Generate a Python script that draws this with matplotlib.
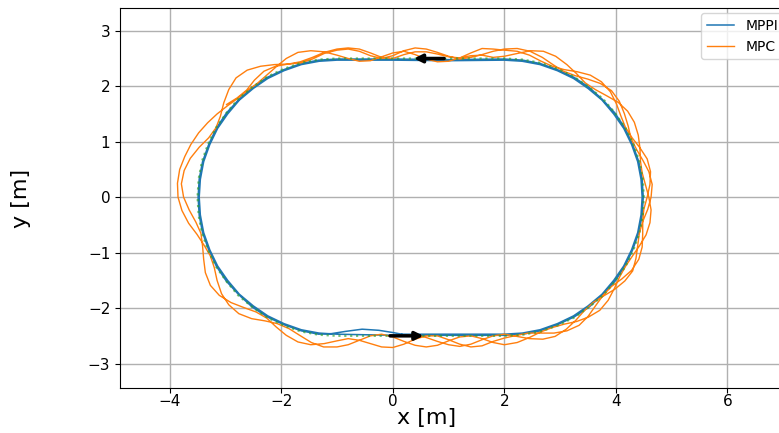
import matplotlib
matplotlib.use("Agg")
import matplotlib.pyplot as plt

# ---------------- data ----------------
# reference track (green dotted)
ref_x = [0.00, 1.00,
         2.00, 2.33, 2.65, 2.96, 3.25, 3.52, 3.77, 3.98, 4.17, 4.31, 4.42, 4.48, 4.50,
         4.48, 4.42, 4.31, 4.17, 3.98, 3.77, 3.52, 3.25, 2.96, 2.65, 2.33, 2.00,
         1.00, 0.00,
         -1.00, -1.33, -1.65, -1.96, -2.25, -2.52, -2.77, -2.98, -3.17, -3.31, -3.42, -3.48, -3.50,
         -3.48, -3.42, -3.31, -3.17, -2.98, -2.77, -2.52, -2.25, -1.96, -1.65, -1.33, -1.00,
         0.00]
ref_y = [-2.50, -2.50,
         -2.50, -2.48, -2.42, -2.31, -2.17, -1.98, -1.77, -1.52, -1.25, -0.96, -0.65, -0.33, 0.00,
         0.33, 0.65, 0.96, 1.25, 1.52, 1.77, 1.98, 2.17, 2.31, 2.42, 2.48, 2.50,
         2.50, 2.50,
         2.50, 2.48, 2.42, 2.31, 2.17, 1.98, 1.77, 1.52, 1.25, 0.96, 0.65, 0.33, 0.00,
         -0.33, -0.65, -0.96, -1.25, -1.52, -1.77, -1.98, -2.17, -2.31, -2.42, -2.48, -2.50,
         -2.50]

# MPPI trajectory (blue)
mppi_x = [0.16, 1.00,
          2.00, 2.32, 2.64, 2.95, 3.24, 3.50, 3.75, 3.96, 4.14, 4.28, 4.39, 4.45, 4.47,
          4.45, 4.39, 4.28, 4.14, 3.96, 3.75, 3.50, 3.24, 2.95, 2.64, 2.32, 2.00,
          1.00, 0.00,
          -1.00, -1.32, -1.64, -1.95, -2.24, -2.50, -2.75, -2.96, -3.14, -3.28, -3.39, -3.45, -3.47,
          -3.45, -3.39, -3.28, -3.14, -2.96, -2.75, -2.50, -2.24, -1.95, -1.64, -1.32, -1.00,
          0.00, 1.00,
          2.00, 2.33, 2.64, 2.95, 3.25, 3.52, 3.76, 3.98, 4.16, 4.30, 4.41, 4.47, 4.49,
          4.47, 4.41, 4.30, 4.16, 3.98, 3.76, 3.52, 3.25, 2.95, 2.64, 2.33, 2.00,
          1.00, 0.00,
          -1.00, -1.33, -1.64, -1.95, -2.25, -2.52, -2.76, -2.98, -3.16, -3.30, -3.41, -3.47, -3.49,
          -3.47, -3.41, -3.30, -3.16, -2.98, -2.76, -2.52, -2.25, -1.95, -1.64, -1.33,
          -1.10, -0.85, -0.55, -0.25, 0.00, 0.16]
mppi_y = [-2.47, -2.47,
          -2.47, -2.45, -2.39, -2.28, -2.14, -1.96, -1.75, -1.50, -1.24, -0.95, -0.64, -0.32, 0.00,
          0.32, 0.64, 0.95, 1.24, 1.50, 1.75, 1.96, 2.14, 2.28, 2.39, 2.45, 2.47,
          2.46, 2.47,
          2.47, 2.45, 2.39, 2.28, 2.14, 1.96, 1.75, 1.50, 1.24, 0.95, 0.64, 0.32, 0.00,
          -0.32, -0.64, -0.95, -1.24, -1.50, -1.75, -1.96, -2.14, -2.28, -2.39, -2.45, -2.47,
          -2.49, -2.49,
          -2.49, -2.47, -2.41, -2.30, -2.16, -1.98, -1.76, -1.52, -1.25, -0.95, -0.64, -0.33, 0.00,
          0.33, 0.64, 0.95, 1.25, 1.52, 1.76, 1.98, 2.16, 2.30, 2.41, 2.47, 2.49,
          2.48, 2.49,
          2.49, 2.47, 2.41, 2.30, 2.16, 1.98, 1.76, 1.52, 1.25, 0.95, 0.64, 0.33, 0.00,
          -0.33, -0.64, -0.95, -1.25, -1.52, -1.76, -1.98, -2.16, -2.30, -2.41, -2.47,
          -2.46, -2.42, -2.38, -2.40, -2.44, -2.47]

# MPC trajectory (orange), lap by lap
mpc_lap1_x = [0.2, 0.4, 0.6, 0.8, 1.0, 1.2, 1.4, 1.6, 1.8,
              2.00, 2.22, 2.45, 2.69, 2.91, 3.11, 3.28, 3.43, 3.59, 3.78, 3.98, 4.16, 4.30, 4.36, 4.39, 4.42,
              4.48, 4.57, 4.63, 4.65, 4.59, 4.48, 4.37, 4.27, 4.22, 4.15, 4.06, 3.92, 3.72, 3.49, 3.27, 3.06,
              2.87, 2.68, 2.46, 2.23, 2.00,
              1.8, 1.6, 1.4, 1.2, 1.0, 0.8, 0.6, 0.4, 0.2, 0.0, -0.2, -0.4, -0.6, -0.8,
              -1.00, -1.23, -1.44, -1.65, -1.87, -2.12, -2.37, -2.61, -2.81, -2.94, -3.03, -3.09, -3.17, -3.30,
              -3.47, -3.63, -3.74, -3.79, -3.75, -3.65, -3.53, -3.44, -3.41, -3.39, -3.36, -3.27, -3.11, -2.90,
              -2.67, -2.45, -2.26, -2.09, -1.91, -1.70, -1.47, -1.23, -1.00]
mpc_lap1_y = [-2.50, -2.47, -2.53, -2.60, -2.66, -2.69, -2.65, -2.57, -2.50,
              -2.47, -2.51, -2.55, -2.56, -2.51, -2.38, -2.22, -2.05, -1.90, -1.78, -1.66, -1.51, -1.33, -1.10,
              -0.87, -0.65, -0.44, -0.22, 0.00, 0.23, 0.46, 0.67, 0.86, 1.06, 1.28, 1.51, 1.73, 1.92, 2.05, 2.13,
              2.19, 2.27, 2.39, 2.52, 2.63, 2.68, 2.67,
              2.63, 2.57, 2.52, 2.49, 2.54, 2.61, 2.67, 2.69, 2.64, 2.55, 2.50, 2.55, 2.63, 2.67,
              2.65, 2.59, 2.49, 2.42, 2.40, 2.39, 2.36, 2.29, 2.15, 1.94, 1.70, 1.46, 1.25, 1.07, 0.90, 0.70,
              0.48, 0.24, 0.00, -0.23, -0.45, -0.65, -0.88, -1.12, -1.36, -1.59, -1.77, -1.90, -1.99, -2.07,
              -2.18, -2.34, -2.49, -2.61, -2.66, -2.64, -2.59]

mpc_lap2_x = [-0.8, -0.6, -0.4, -0.2, 0.0, 0.2, 0.4, 0.6, 0.8, 1.0, 1.2, 1.4, 1.6, 1.8,
              2.00, 2.22, 2.43, 2.66, 2.89, 3.12, 3.34, 3.50, 3.64, 3.77, 3.92, 4.11, 4.28, 4.41, 4.47, 4.48,
              4.48, 4.50, 4.56, 4.61, 4.62, 4.56, 4.43, 4.29, 4.17, 4.09, 4.01, 3.90, 3.74, 3.54, 3.31, 3.07,
              2.86, 2.66, 2.45, 2.23, 2.00,
              1.8, 1.6, 1.4, 1.2, 1.0, 0.8, 0.6, 0.4, 0.2, 0.0, -0.2, -0.4, -0.6, -0.8,
              -1.00, -1.23, -1.47, -1.70, -1.91, -2.09, -2.27, -2.43, -2.61, -2.78, -2.96, -3.15, -3.32, -3.48,
              -3.62, -3.73, -3.82, -3.86, -3.85, -3.78, -3.66, -3.51, -3.38, -3.27, -3.20, -3.15, -3.07, -2.94,
              -2.76, -2.53, -2.29, -2.07, -1.86, -1.67, -1.46, -1.24, -1.00]
mpc_lap2_y = [-2.55, -2.58, -2.64, -2.70, -2.71, -2.65, -2.56, -2.50, -2.50, -2.57, -2.65, -2.70, -2.68, -2.60,
              -2.54, -2.49, -2.45, -2.45, -2.45, -2.41, -2.31, -2.15, -1.95, -1.77, -1.61, -1.47, -1.32, -1.12,
              -0.90, -0.67, -0.44, -0.22, 0.00, 0.23, 0.46, 0.69, 0.89, 1.07, 1.26, 1.46, 1.68, 1.90, 2.08, 2.20,
              2.26, 2.30, 2.36, 2.45, 2.56, 2.63, 2.65,
              2.67, 2.68, 2.60, 2.51, 2.45, 2.44, 2.49, 2.57, 2.63, 2.60, 2.53, 2.46, 2.45, 2.50,
              2.56, 2.62, 2.64, 2.61, 2.50, 2.35, 2.19, 2.05, 1.92, 1.78, 1.65, 1.50, 1.34, 1.16, 0.95, 0.73,
              0.50, 0.25, 0.00, -0.24, -0.47, -0.67, -0.87, -1.06, -1.27, -1.50, -1.74, -1.94, -2.10, -2.19,
              -2.23, -2.28, -2.37, -2.49, -2.62, -2.70, -2.70]

mpc_lap3_x = [-0.8, -0.6, -0.4, -0.2, 0.0, 0.2, 0.4, 0.6, 0.8, 1.0, 1.2, 1.4, 1.6, 1.8,
              2.00, 2.23, 2.45, 2.65, 2.86, 3.07, 3.30, 3.51, 3.71, 3.86, 3.97, 4.06, 4.17, 4.29, 4.42, 4.54,
              4.61, 4.63, 4.59, 4.53, 4.47, 4.44, 4.43, 4.40, 4.33, 4.21, 4.04, 3.83, 3.63, 3.45, 3.29, 3.12,
              2.92, 2.70, 2.47, 2.23, 2.00,
              1.8, 1.6, 1.4, 1.2, 1.0, 0.8, 0.6, 0.4, 0.2, 0.0, -0.2, -0.4, -0.6, -0.8,
              -1.00, -1.23, -1.44, -1.66, -1.87, -2.10, -2.31, -2.48, -2.62, -2.79, -2.98]
mpc_lap3_y = [-2.66, -2.58, -2.50, -2.47, -2.52, -2.60, -2.67, -2.70, -2.67, -2.59, -2.52, -2.50, -2.55, -2.62,
              -2.66, -2.62, -2.53, -2.43, -2.35, -2.29, -2.24, -2.16, -2.04, -1.86, -1.65, -1.45, -1.25, -1.07,
              -0.88, -0.68, -0.46, -0.23, 0.00, 0.22, 0.44, 0.65, 0.89, 1.12, 1.35, 1.55, 1.71, 1.83, 1.94, 2.06,
              2.23, 2.39, 2.54, 2.63, 2.64, 2.59, 2.54,
              2.52, 2.56, 2.55, 2.51, 2.53, 2.58, 2.62, 2.62, 2.57, 2.50, 2.52, 2.60, 2.67, 2.69,
              2.67, 2.61, 2.52, 2.44, 2.40, 2.36, 2.27, 2.11, 1.93, 1.79, 1.67]

arrow_start = [(0.92, 2.50), (-0.05, -2.50)]
arrow_end = [(0.38, 2.50), (0.55, -2.50)]

x_ticks = [-4, -2, 0, 2, 4, 6]
y_ticks = [-3, -2, -1, 0, 1, 2, 3]

# ---------------- figure ----------------
W, H = 779, 433
fig = plt.figure(figsize=(W / 100, H / 100), dpi=100)
ax = fig.add_axes([120 / W, 45 / H, 675 / W, 380 / H])

mpc_x = mpc_lap1_x + mpc_lap2_x + mpc_lap3_x
mpc_y = mpc_lap1_y + mpc_lap2_y + mpc_lap3_y

ax.plot(mppi_x, mppi_y, color="tab:blue", lw=1.1, label="MPPI", zorder=3)
ax.plot(mpc_x, mpc_y, color="tab:orange", lw=1.0, label="MPC", zorder=3)
ax.plot(ref_x, ref_y, color="tab:green", ls=":", lw=1.6, alpha=0.65, zorder=4)

for (x0, y0), (x1, y1) in zip(arrow_start, arrow_end):
    ax.annotate("", xy=(x1, y1), xytext=(x0, y0),
                arrowprops=dict(arrowstyle="-|>", color="black", lw=2.5,
                                mutation_scale=12, shrinkA=0, shrinkB=0),
                zorder=5)

ax.set_xlim(-4.89, 7.21)
ax.set_ylim(-3.44, 3.41)
ax.set_xticks(x_ticks)
ax.set_yticks(y_ticks)
ax.tick_params(labelsize=11)
ax.tick_params(axis="x", pad=1)
ax.grid(True, color="#b0b0b0", lw=1.0)
ax.set_axisbelow(True)

ax.set_xlabel("x [m]", fontsize=16)
ax.set_ylabel("y [m]", fontsize=16)
ax.xaxis.set_label_coords((427 - 120) / 675, -(408 - 388) / 380)
ax.yaxis.set_label_coords(-(120 - 31) / 675, 0.5)

ax.legend(loc="upper left", bbox_to_anchor=((701 - 120) / 675, 1 - 5 / 380),
          borderaxespad=0, fontsize=10)

fig.savefig("out.png", dpi=100)
